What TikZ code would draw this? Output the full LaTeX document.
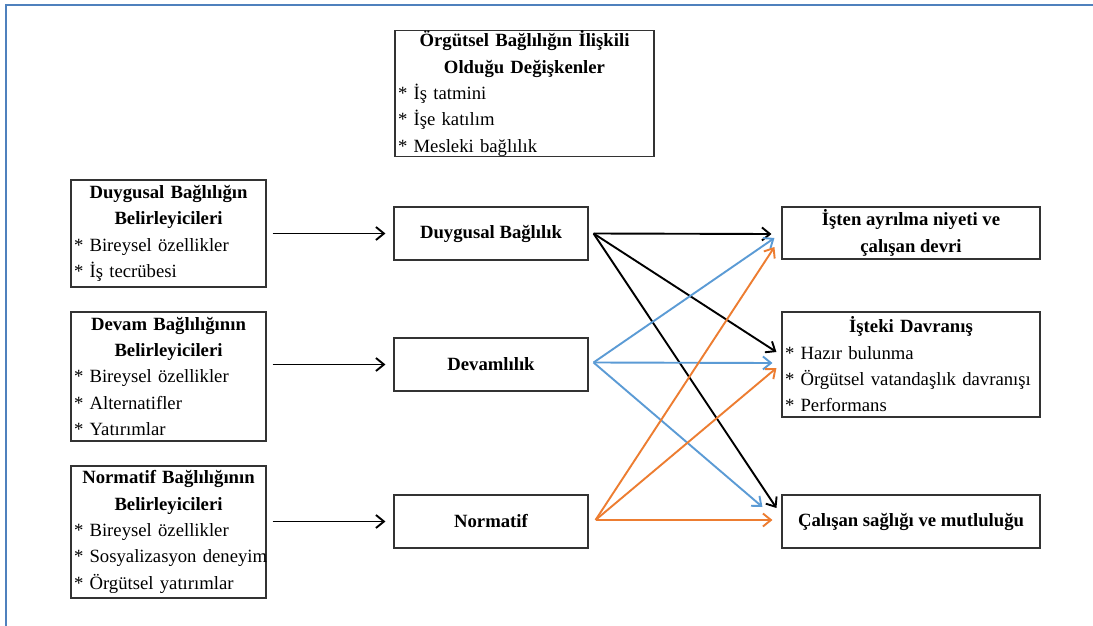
\documentclass[tikz,border=0pt]{standalone}
\usepackage{fontspec}
\setmainfont{Liberation Serif}
\usetikzlibrary{arrows.meta,calc}
\definecolor{frameblue}{HTML}{4F81BD}
\definecolor{arrblue}{HTML}{5B9BD5}
\definecolor{arrorange}{HTML}{ED7D31}
\begin{document}
\begin{tikzpicture}[x=1pt,y=-1pt,
  box/.style={draw=black!80, line width=1.1pt, rectangle, inner ysep=0pt, inner xsep=3pt,
    font=\fontsize{18.7}{26.3}\selectfont},
  listbox/.style={box, align=left},
  titlebox/.style={box, align=center, font=\fontsize{18.7}{26.3}\selectfont\bfseries},
  arr/.style={line width=1.9pt, -{Straight Barb[length=8pt,width=13pt,line width=1.9pt]}},
  blk/.style={arr, draw=black},
  blu/.style={arr, draw=arrblue},
  org/.style={arr, draw=arrorange}]
\useasboundingbox (0,0) rectangle (1093,626);
\fill[white] (0,0) rectangle (1093,626);
% frame
\draw[frameblue, line width=2pt] (6,630) -- (6,5) -- (1097,5);

% top box
\node[listbox, minimum width=259pt, minimum height=123pt, text width=253pt] (ovars) at (524.5,93.5)
 {{\centering\bfseries Örgütsel Bağlılığın İlişkili\\Olduğu Değişkenler\par}
  \mbox{* İş tatmini}\\\mbox{* İşe katılım}\\\mbox{* Mesleki bağlılık}};

% left boxes
\node[listbox, minimum width=195pt, minimum height=107pt, text width=189pt] (dd) at (168.5,233.5)
 {{\centering\bfseries Duygusal Bağlılığın\\Belirleyicileri\par}
  \mbox{* Bireysel özellikler}\\\mbox{* İş tecrübesi}};
\node[listbox, minimum width=195pt, minimum height=129pt, text width=189pt] (dv) at (168.5,376.5)
 {{\centering\bfseries Devam Bağlılığının\\Belirleyicileri\par}
  \mbox{* Bireysel özellikler}\\\mbox{* Alternatifler}\\\mbox{* Yatırımlar}};
\node[listbox, minimum width=195pt, minimum height=132pt, text width=189pt] (dn) at (168.5,532)
 {{\centering\bfseries Normatif Bağlılığının\\Belirleyicileri\par}
  \mbox{* Bireysel özellikler}\\\mbox{* Sosyalizasyon deneyim}\\\mbox{* Örgütsel yatırımlar}};

% middle boxes
\node[titlebox, minimum width=194pt, minimum height=53pt] (duy) at (491,233.5) {Duygusal Bağlılık};
\node[titlebox, minimum width=194pt, minimum height=53pt] (dev) at (491,364.5) {Devamlılık};
\node[titlebox, minimum width=194pt, minimum height=53pt] (nor) at (491,521.5) {Normatif};

% right boxes
\node[titlebox, minimum width=258pt, minimum height=52pt] (isten) at (911,233) {İşten ayrılma niyeti ve\\çalışan devri};
\node[listbox, minimum width=258pt, minimum height=105pt, text width=252pt] (isteki) at (911,364.5)
 {{\centering\bfseries İşteki Davranış\par}
  \mbox{* Hazır bulunma}\\\mbox{* Örgütsel vatandaşlık davranışı}\\\mbox{* Performans}};
\node[titlebox, minimum width=258pt, minimum height=53pt] (cal) at (911,521.5) {Çalışan sağlığı ve mutluluğu};

% left to middle
\draw[blk] ($(dd.east |- duy.west)+(6,0)$) -- ($(duy.west)+(-8,0)$);
\draw[blk] ($(dv.east |- dev.west)+(6,0)$) -- ($(dev.west)+(-8,0)$);
\draw[blk] ($(dn.east |- nor.west)+(6,0)$) -- ($(nor.west)+(-8,0)$);

% cross arrows
\coordinate (sD) at ($(duy.east)+(5,0)$);
\coordinate (sV) at ($(dev.east)+(5,-2)$);
\coordinate (sN) at ($(nor.east)+(7,-1.5)$);

\draw[blk] (sD) -- ($(isten.west)+(-10,1)$);
\draw[blk] (sD) -- ($(isteki.west)+(-5,-12.5)$);
\draw[blk] (sD) -- ($(cal.west)+(-5,-13.5)$);

\draw[blu] (sV) -- ($(isten.west)+(-7,5)$);
\draw[blu] (sV) -- ($(isteki.west)+(-9,-1.5)$);
\draw[blu] (sV) -- ($(cal.west)+(-19,-14.5)$);

\draw[org] (sN) -- ($(isten.west)+(-7,14)$);
\draw[org] (sN) -- ($(isteki.west)+(-5,3.5)$);
\draw[org] (sN) -- ($(cal.west)+(-9,-1.5)$);
\end{tikzpicture}
\end{document}
